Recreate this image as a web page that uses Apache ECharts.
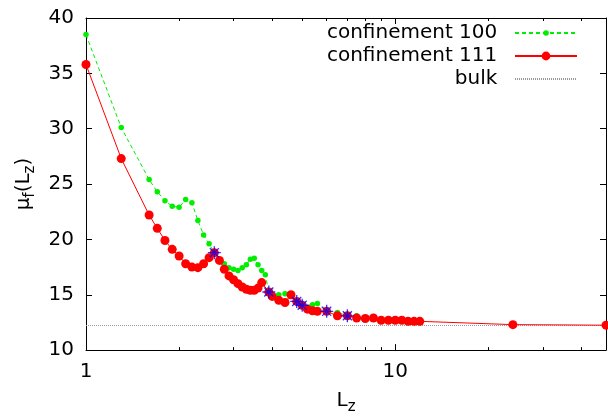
<!DOCTYPE html>
<html><head><meta charset="utf-8">
<script src="https://cdn.jsdelivr.net/npm/echarts@6/dist/echarts.min.js"></script>
<style>html,body{margin:0;padding:0;background:#fff}#c{width:608px;height:420px}</style>
</head><body><div id="c"></div>
<script>
const lz100 = [1,1.3,1.6,1.7,1.8,1.9,2.0,2.1,2.2,2.3,2.4,2.5,2.6,2.8,2.9,3.0,3.1,3.2,3.3,3.4,3.5,3.6,3.7,3.8,3.9,4.2,4.4,4.8,5.0,5.4,5.6,6.0,6.5,7.0,7.5];
const mu100 = [38.5,30.1,25.4,24.3,23.5,23.0,22.9,23.6,23.3,21.7,20.4,19.6,18.8,17.8,17.45,17.3,17.2,17.45,17.7,18.2,18.3,17.7,17.2,16.8,15.25,15.0,15.1,14.4,14.05,14.1,14.2,13.5,13.4,13.1,13.1];
const lz111 = [1,1.3,1.6,1.7,1.8,1.9,2.0,2.1,2.2,2.3,2.4,2.5,2.6,2.7,2.8,2.9,3.0,3.1,3.2,3.3,3.4,3.5,3.6,3.7,3.9,4.0,4.2,4.4,4.6,4.8,5.0,5.2,5.4,5.6,6.0,6.5,7.0,7.5,8.0,8.5,9.0,9.5,10,10.5,11,11.5,12,24,48];
const mu111 = [35.8,27.3,22.2,21.0,19.9,19.1,18.5,17.8,17.5,17.45,17.8,18.35,18.8,18.1,17.3,16.7,16.35,16.0,15.7,15.5,15.4,15.4,15.6,16.1,15.25,14.85,14.5,14.3,15.0,14.4,14.05,13.7,13.55,13.5,13.5,13.1,13.1,12.9,12.85,12.9,12.7,12.7,12.7,12.7,12.6,12.6,12.6,12.3,12.25];
const lzCommon = [2.6,3.9,4.8,5.0,6.0,7.0];
const muCommon = [18.8,15.25,14.4,14.05,13.5,13.1];
const bulkValue = 12.22;
const xMin = 1, xMax = 48;
const xMinorTicks = [2,3,4,5,6,7,8,9,20,30,40];
const yMin = 10, yMax = 40, yStep = 5;
const seriesNames = ['confinement 100','confinement 111','bulk'];

const FONT = 'DejaVu Sans';
const pairs = (xs, ys) => xs.map((x, i) => [x, ys[i]]);
const minorLog = xMinorTicks.map(v => Math.log10(v));

const majorX = (pos) => ({
  type: 'log', logBase: 10, min: xMin, max: xMax, interval: 1, position: pos,
  axisLine: { show: true, onZero: false, lineStyle: { color: '#000', width: 1 } },
  axisTick: { show: true, inside: true, length: 6, lineStyle: { color: '#000' } },
  axisLabel: { show: pos === 'bottom', showMaxLabel: false, margin: 12, fontSize: 20, color: '#000', fontFamily: FONT },
  splitLine: { show: false }
});
const minorX = (pos) => ({
  type: 'value', min: 0, max: Math.log10(xMax), position: pos,
  axisLine: { show: false, onZero: false },
  axisTick: { show: true, inside: true, length: 3, customValues: minorLog, lineStyle: { color: '#000' } },
  axisLabel: { show: false },
  splitLine: { show: false }
});
const yAx = (pos) => ({
  type: 'value', min: yMin, max: yMax, interval: yStep, position: pos,
  axisLine: { show: true, onZero: false, lineStyle: { color: '#000', width: 1 } },
  axisTick: { show: true, inside: true, length: 6, lineStyle: { color: '#000' } },
  axisLabel: { show: pos === 'left', margin: 12, fontSize: 20, color: '#000', fontFamily: FONT },
  splitLine: { show: false }
});

const xs = [majorX('bottom'), majorX('top'), minorX('bottom'), minorX('top')];
xs[0].name = 'L{s|z}';
xs[0].nameLocation = 'middle';
xs[0].nameGap = 30;
xs[0].nameTextStyle = { fontSize: 20, color: '#000', fontFamily: FONT,
  rich: { s: { fontSize: 15, fontFamily: FONT, color: '#000', verticalAlign: 'bottom', lineHeight: 14 } }, lineHeight: 28 };
const ys = [yAx('left'), yAx('right')];
ys[0].name = 'μ{s|f}(L{s|z})';
ys[0].nameLocation = 'middle';
ys[0].nameRotate = 90;
ys[0].nameGap = 44;
ys[0].nameTextStyle = { fontSize: 20, color: '#000', fontFamily: FONT, lineHeight: 28,
  rich: { s: { fontSize: 15, fontFamily: FONT, color: '#000', verticalAlign: 'bottom', lineHeight: 14 } } };

const legendBase = (name, centerY, ih) => ({
  data: [name], orient: 'vertical', align: 'right', right: 30, top: centerY - 12,
  itemWidth: 62, itemHeight: ih, padding: 0,
  formatter: n => n + '  ',
  textStyle: { fontSize: 20, color: '#000', fontFamily: FONT }
});
const legBulk = legendBase(seriesNames[2], 81, 10);
legBulk.itemStyle = { color: 'rgba(0,0,0,0)', borderColor: 'rgba(0,0,0,0)', borderWidth: 0 };

const chart = echarts.init(document.getElementById('c'), null, { renderer: 'canvas' });
chart.setOption({
  animation: false,
  backgroundColor: '#fff',
  grid: { left: 86, right: 2, top: 18, bottom: 61, containLabel: false },
  legend: [ legendBase(seriesNames[0], 35, 7), legendBase(seriesNames[1], 58, 11), legBulk ],
  xAxis: xs,
  yAxis: ys,
  series: [
    { name: seriesNames[2], type: 'line', xAxisIndex: 0, yAxisIndex: 0, data: [[xMin, bulkValue], [xMax, bulkValue]],
      symbol: 'none', lineStyle: { color: '#999', width: 1, type: [1, 1] }, itemStyle: { color: '#999' }, z: 1 },
    { name: seriesNames[0], type: 'line', xAxisIndex: 0, yAxisIndex: 0, data: pairs(lz100, mu100),
      symbol: 'circle', symbolSize: 5.5, lineStyle: { color: '#00ee00', width: 1, type: [4, 3] },
      itemStyle: { color: '#00ee00' }, z: 2 },
    { name: seriesNames[1], type: 'line', xAxisIndex: 0, yAxisIndex: 0, data: pairs(lz111, mu111),
      symbol: 'circle', symbolSize: 9, lineStyle: { color: '#ff0000', width: 1 },
      itemStyle: { color: '#ff0000' }, z: 3 },
    { name: 'common', type: 'scatter', xAxisIndex: 0, yAxisIndex: 0, data: pairs(lzCommon, muCommon),
      symbol: 'path://M0,-1L0,1M-1,0L1,0M-0.7,-0.7L0.7,0.7M-0.7,0.7L0.7,-0.7', symbolSize: 13,
      itemStyle: { color: 'transparent', borderColor: '#0000ff', borderWidth: 1.3 }, z: 4 }
  ]
});
</script></body></html>
